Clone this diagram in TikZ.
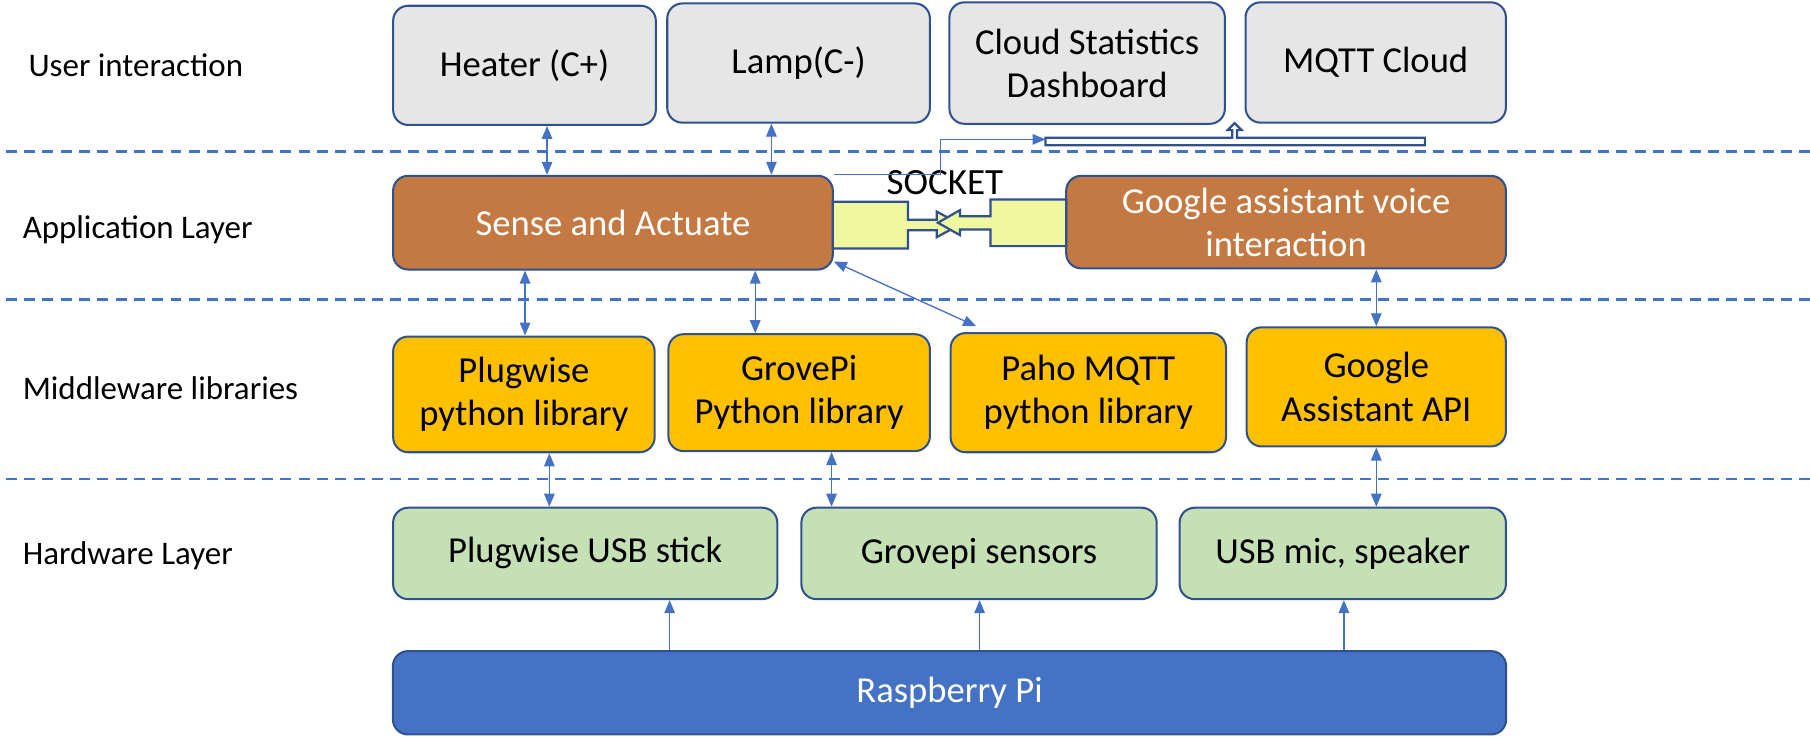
\documentclass[tikz,border=0pt]{standalone}
\usepackage{fontspec}
\setmainfont{Carlito}
\usetikzlibrary{arrows.meta,calc}
\definecolor{bord}{HTML}{2F528F}
\definecolor{conncol}{HTML}{4472C4}
\definecolor{grayfill}{HTML}{E6E6E6}
\definecolor{yelfill}{HTML}{FFC000}
\definecolor{greenfill}{HTML}{C5E0B4}
\definecolor{brownfill}{RGB}{196,121,66}
\definecolor{bluefill}{HTML}{4472C4}
\definecolor{sockfill}{RGB}{239,248,158}
\begin{document}
\begin{tikzpicture}[x=0.01cm,y=-0.01cm,
  box/.style={draw=bord, line width=0.5pt, rounded corners=0.13cm, inner sep=0pt,
    align=center, font=\fontsize{9}{10.6}\selectfont},
  ubox/.style={box, fill=grayfill},
  abox/.style={box, fill=brownfill, text=white},
  mbox/.style={box, fill=yelfill},
  hbox/.style={box, fill=greenfill},
  pibox/.style={box, fill=bluefill, text=white},
  lab/.style={anchor=base west, inner sep=0pt, font=\fontsize{8.1}{9.7}\selectfont},
  conn/.style={draw=conncol, line width=0.33pt},
  tip/.tip={Triangle[length=3.2pt,width=2.6pt]},
  dbl/.style={conn, tip-tip},
  one/.style={conn, -tip},
  sep/.style={draw=conncol, line width=0.55pt, dash pattern=on 2.7pt off 1.8pt},
  outl/.style={draw=bord, line width=0.55pt},
]
\useasboundingbox (0,0) rectangle (1565,638);

% separators
\draw[sep] (5,131) -- (1565,131);
\draw[sep] (5,259) -- (1565,259);
\draw[sep] (5,414) -- (1565,414);

% layer labels
\node[lab] (l1) at (24,66) {User interaction};
\node[lab] (l2) at (19,206) {Application Layer};
\node[lab] (l3) at (19,345) {Middleware libraries};
\node[lab] (l4) at (19,488) {Hardware Layer};

% user interaction
\node[ubox, minimum width=2.27cm, minimum height=1.03cm] (heater) at (453.5,56.5) {Heater (C+)};
\node[ubox, minimum width=2.27cm, minimum height=1.03cm] (lamp) at (690.5,54.5) {Lamp(C-)};
\node[ubox, minimum width=2.38cm, minimum height=1.05cm] (cloud) at (940,54.5) {Cloud Statistics\\Dashboard};
\node[ubox, minimum width=2.25cm, minimum height=1.04cm] (mqtt) at (1189.5,54) {MQTT Cloud};

% application
\node[abox, minimum width=3.80cm, minimum height=0.81cm] (sense) at (530,192.5) {Sense and Actuate};
\node[abox, minimum width=3.80cm, minimum height=0.80cm] (google) at (1112,192) {Google assistant voice\\interaction};

% middleware
\node[mbox, minimum width=2.26cm, minimum height=1.00cm] (plugwiselib) at (453,341) {Plugwise\\python library};
\node[mbox, minimum width=2.26cm, minimum height=1.01cm] (grovelib) at (691,339.5) {GrovePi\\Python library};
\node[mbox, minimum width=2.38cm, minimum height=1.03cm] (paholib) at (941,339.5) {Paho MQTT\\python library};
\node[mbox, minimum width=2.24cm, minimum height=1.03cm] (gapi) at (1190,334.5) {Google\\Assistant API};

% hardware
\node[hbox, minimum width=3.32cm, minimum height=0.79cm] (usbstick) at (506,478.5) {Plugwise USB stick};
\node[hbox, minimum width=3.07cm, minimum height=0.79cm] (grovesens) at (846.5,478.5) {Grovepi sensors};
\node[hbox, minimum width=2.82cm, minimum height=0.79cm] (usbmic) at (1161,478.5) {USB mic, speaker};

% raspberry pi
\node[pibox, minimum width=9.62cm, minimum height=0.72cm] (rpi) at (821,599) {Raspberry Pi};

% socket block arrows
\draw[outl, fill=sockfill] (720,174.5) -- (785,174.5) -- (785,190) -- (810,190) -- (810,183)
  -- (830.5,194) -- (810,205) -- (810,199) -- (785,199) -- (785,214.8) -- (720,214.8) -- cycle;
\draw[outl, fill=sockfill] (922,172.4) -- (856.5,172.4) -- (856.5,187) -- (830,187) -- (830,181.7)
  -- (811,192.6) -- (830,203.3) -- (830,198.4) -- (856.5,198.4) -- (856.5,212.8) -- (922,212.8) -- cycle;
\node[inner sep=0pt, font=\fontsize{9.1}{10.6}\selectfont] (socket) at (817,158) {SOCKET};

% hollow bar with up arrow
\draw[outl, fill=white] (904,119) -- (1065.5,119) -- (1065.5,112.5) -- (1061.5,112.5) -- (1067.5,106.5)
  -- (1073.5,112.5) -- (1069.5,112.5) -- (1069.5,119) -- (1232,119) -- (1232,125.5) -- (904,125.5) -- cycle;
\coordinate (barin) at (904,120.5);
\draw[one] (sense.north east) -- ++(92,0) |- (barin);

% vertical connector x positions
\coordinate (xa) at (473,0);
\coordinate (xb) at (667,0);
\coordinate (xc) at (454,0);
\coordinate (xd) at (653,0);
\coordinate (xe) at (1190,0);
\coordinate (xf) at (475,0);
\coordinate (xg) at (719,0);
\coordinate (xh) at (579,0);
\coordinate (xi) at (847,0);
\coordinate (xj) at (1162,0);

\draw[dbl] (heater.south -| xa) -- (sense.north -| xa);
\draw[dbl] (lamp.south -| xb) -- (sense.north -| xb);
\draw[dbl] (sense.south -| xc) -- (plugwiselib.north -| xc);
\draw[dbl] (sense.south -| xd) -- (grovelib.north -| xd);
\draw[dbl] (sense.-10) -- ($(paholib.north west)+(23,-5)$);
\draw[dbl] (google.south -| xe) -- (gapi.north -| xe);
\draw[dbl] (plugwiselib.south -| xf) -- (usbstick.north -| xf);
\draw[dbl] (grovelib.south -| xg) -- (grovesens.north -| xg);
\draw[dbl] (gapi.south -| xe) -- (usbmic.north -| xe);
\draw[one] (rpi.north -| xh) -- (usbstick.south -| xh);
\draw[one] (rpi.north -| xi) -- (grovesens.south -| xi);
\draw[one] (rpi.north -| xj) -- (usbmic.south -| xj);
\end{tikzpicture}
\end{document}
